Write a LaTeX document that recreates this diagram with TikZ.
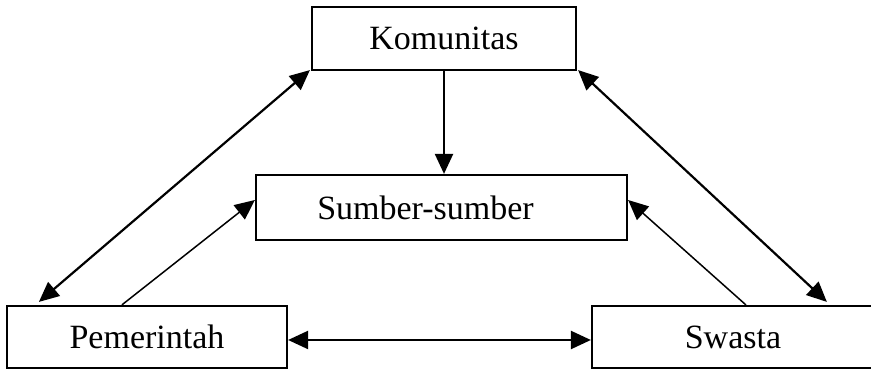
\documentclass[tikz,border=0pt]{standalone}
\usepackage{fontspec}
\setmainfont{Liberation Serif}
\usetikzlibrary{arrows.meta}
\begin{document}
\begin{tikzpicture}[x=1pt,y=1pt,
  box/.style={draw, line width=2.2pt, inner sep=0pt, font=\fontsize{34}{40}\selectfont},
  thick arrow/.style={line width=2.2pt, -{Triangle[length=20pt,width=18pt]}},
  both arrow/.style={line width=2.2pt, {Triangle[length=20pt,width=18pt]}-{Triangle[length=20pt,width=18pt]}},
  thin arrow/.style={line width=1.5pt, -{Triangle[length=20pt,width=18pt]}}]
\useasboundingbox (0,0) rectangle (871,369);
\node[box, minimum width=264pt, minimum height=63pt] (kom) at (444,330.5) {Komunitas};
\node[box, minimum width=371pt, minimum height=65pt] (sum) at (441.5,161.5) {Sumber-sumber\kern32pt};
\node[box, minimum width=280pt, minimum height=62pt] (pem) at (147,32) {Pemerintah};
\node[box, minimum width=282pt, minimum height=62pt] (swa) at (733,32) {Swasta};
\draw[thick arrow] (kom.south) -- (kom.south |- sum.north);
\draw[both arrow] ([xshift=33pt,yshift=3pt]pem.north west) -- ([xshift=-1pt,yshift=1pt]kom.south west);
\draw[both arrow] ([xshift=236pt,yshift=3pt]swa.north west) -- ([xshift=1pt,yshift=1pt]kom.south east);
\draw[thin arrow] ([xshift=116pt]pem.north west) -- ([yshift=7.5pt]sum.west);
\draw[thin arrow] ([xshift=155pt]swa.north west) -- ([yshift=7.5pt]sum.east);
\draw[both arrow] ([yshift=-3pt]pem.east) -- ([yshift=-3pt]swa.west);
\end{tikzpicture}
\end{document}
